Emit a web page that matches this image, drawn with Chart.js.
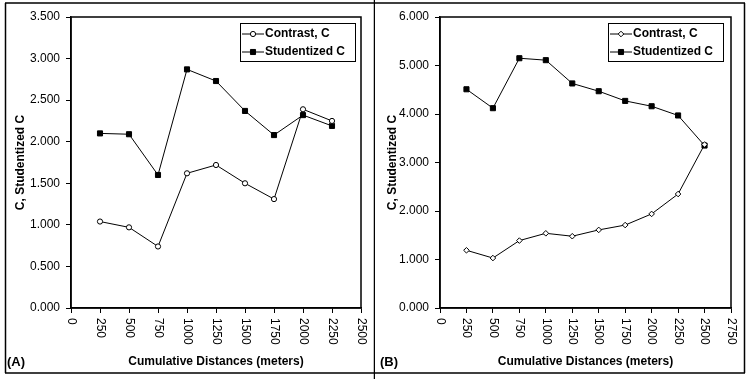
<!DOCTYPE html>
<html>
<head>
<meta charset="utf-8">
<script src="https://cdn.jsdelivr.net/npm/chart.js@4"></script>
<style>
  html, body { margin: 0; padding: 0; background: #fff; }
  #wrap { position: relative; width: 749px; height: 379px; overflow: hidden; }
  #cA { position: absolute; left: 0; top: 0; }
  #cB { position: absolute; left: 375px; top: 0; }
</style>
</head>
<body>
<div id="wrap">
  <canvas id="cA" width="375" height="379"></canvas>
  <canvas id="cB" width="374" height="379"></canvas>
</div>
<script>
// ---- Data ----
const distancesA = [250, 500, 750, 1000, 1250, 1500, 1750, 2000, 2250];
const contrastA  = [1.04, 0.97, 0.74, 1.62, 1.72, 1.50, 1.31, 2.39, 2.25];
const studentA   = [2.10, 2.09, 1.60, 2.87, 2.73, 2.37, 2.08, 2.32, 2.19];

const distancesB = [250, 500, 750, 1000, 1250, 1500, 1750, 2000, 2250, 2500];
const contrastB  = [1.19, 1.03, 1.39, 1.54, 1.48, 1.61, 1.71, 1.94, 2.35, 3.37];
const studentB   = [4.51, 4.12, 5.15, 5.11, 4.63, 4.47, 4.27, 4.16, 3.97, 3.35];

const seriesNames = ['Contrast, C', 'Studentized C'];
const xTitle = 'Cumulative Distances (meters)';
const yTitle = 'C, Studentized C';
const panelLabels = ['(A)', '(B)'];

const FONT = "'Liberation Sans', Arial, Helvetica, sans-serif";

function pts(xs, ys) { return xs.map((x, i) => ({ x: x, y: ys[i] })); }

function makeChart(canvas, cfg) {
  const framePlugin = {
    id: 'frame' + cfg.label,
    afterDraw(chart) {
      const ctx = chart.ctx;
      const a = chart.chartArea;
      ctx.save();
      // plot frame
      ctx.strokeStyle = '#000';
      ctx.lineWidth = 1.5;
      ctx.strokeRect(a.left, a.top, a.right - a.left, a.bottom - a.top);
      // rotated x tick labels (clockwise)
      const xs = chart.scales.x;
      ctx.fillStyle = '#000';
      ctx.font = '12px ' + FONT;
      ctx.textAlign = 'left';
      ctx.textBaseline = 'middle';
      xs.ticks.forEach((t, i) => {
        const px = xs.getPixelForTick(i);
        ctx.save();
        ctx.translate(px, a.bottom + 10);
        ctx.rotate(Math.PI / 2);
        ctx.fillText(String(t.value), 0, 0);
        ctx.restore();
      });
      // panel label
      ctx.font = 'bold 13px ' + FONT;
      ctx.textAlign = 'left';
      ctx.textBaseline = 'middle';
      ctx.fillText(cfg.label, cfg.labelX, 362);
      // legend
      const lg = cfg.legend;
      ctx.lineWidth = 1;
      ctx.strokeStyle = '#000';
      ctx.strokeRect(lg.x + 0.5, lg.y + 0.5, lg.w, lg.h);
      chart.data.datasets.forEach((ds, i) => {
        const ry = lg.y + lg.row0 + i * lg.rowGap;
        ctx.beginPath();
        ctx.lineWidth = 1;
        ctx.strokeStyle = '#000';
        ctx.moveTo(lg.x + 2, ry);
        ctx.lineTo(lg.x + 2 + lg.sample, ry);
        ctx.stroke();
        ctx.fillStyle = ds.pointBackgroundColor;
        Chart.helpers.drawPoint(ctx, {
          pointStyle: ds.pointStyle, radius: ds.pointRadius, rotation: 0, borderWidth: 1
        }, lg.x + 2 + lg.sample / 2, ry);
        ctx.fillStyle = '#000';
        ctx.font = 'bold 12px ' + FONT;
        ctx.textAlign = 'left';
        ctx.textBaseline = 'middle';
        ctx.fillText(ds.label, lg.x + 3 + lg.sample, ry);
      });
      // panel border
      ctx.strokeStyle = '#000';
      ctx.lineWidth = 1.5;
      ctx.beginPath();
      cfg.border.forEach(seg => {
        ctx.moveTo(seg[0], seg[1]);
        ctx.lineTo(seg[2], seg[3]);
      });
      ctx.stroke();
      ctx.restore();
    }
  };

  return new Chart(canvas, {
    type: 'line',
    data: {
      datasets: [
        {
          label: seriesNames[0],
          data: pts(cfg.xs, cfg.c),
          borderColor: '#000', borderWidth: 1,
          pointStyle: cfg.cStyle, pointRadius: cfg.cRadius,
          pointBackgroundColor: '#fff', pointBorderColor: '#000', pointBorderWidth: 1,
          tension: 0
        },
        {
          label: seriesNames[1],
          data: pts(cfg.xs, cfg.s),
          borderColor: '#000', borderWidth: 1,
          pointStyle: 'rect', pointRadius: 3.6,
          pointBackgroundColor: '#000', pointBorderColor: '#000', pointBorderWidth: 1,
          tension: 0
        }
      ]
    },
    options: {
      responsive: false,
      animation: false,
      devicePixelRatio: 1,
      layout: { padding: { top: 17, right: cfg.padRight, left: 0, bottom: 0 } },
      plugins: { legend: { display: false }, tooltip: { enabled: false } },
      scales: {
        x: {
          type: 'linear', min: 0, max: cfg.xMax,
          ticks: { display: false, stepSize: 250 },
          grid: { display: true, drawOnChartArea: false, drawTicks: true, tickLength: 5, color: '#000' },
          border: { display: true, color: '#000', width: 1.5 },
          title: { display: true, text: xTitle, color: '#000',
                   font: { family: FONT, size: 12, weight: 'bold' }, padding: { top: 0, bottom: 10 } },
          afterFit(s) { s.height = 71; }
        },
        y: {
          min: 0, max: cfg.yMax,
          ticks: { stepSize: cfg.yStep, color: '#000', padding: 6,
                   font: { family: FONT, size: 12 },
                   callback: v => Number(v).toFixed(3) },
          grid: { display: true, drawOnChartArea: false, drawTicks: true, tickLength: 5, color: '#000' },
          border: { display: true, color: '#000', width: 1.5 },
          title: { display: true, text: yTitle, color: '#000',
                   font: { family: FONT, size: 12, weight: 'bold' }, padding: { top: cfg.yTitlePad, bottom: 0 } },
          afterFit(s) { s.width = cfg.yWidth; }
        }
      }
    },
    plugins: [framePlugin]
  });
}

makeChart(document.getElementById('cA'), {
  label: panelLabels[0], labelX: 7,
  xs: distancesA, c: contrastA, s: studentA,
  cStyle: 'circle', cRadius: 2.6,
  xMax: 2500, yMax: 3.5, yStep: 0.5,
  padRight: 14, yWidth: 71, yTitlePad: 13,
  legend: { x: 240, y: 23, w: 115, h: 38, row0: 11, rowGap: 18, sample: 22 },
  border: [[5, 3, 375, 3], [5.5, 3, 5.5, 373], [5, 373, 375, 373], [374.5, 0, 374.5, 379]]
});

makeChart(document.getElementById('cB'), {
  label: panelLabels[1], labelX: 5,
  xs: distancesB, c: contrastB, s: studentB,
  cStyle: 'rectRot', cRadius: 2.8,
  xMax: 2750, yMax: 6, yStep: 1,
  padRight: 18, yWidth: 65, yTitlePad: 10,
  legend: { x: 233, y: 23, w: 115, h: 38, row0: 11, rowGap: 18, sample: 22 },
  border: [[0, 3, 370, 3], [369.5, 3, 369.5, 373], [0, 373, 370, 373]]
});
</script>
</body>
</html>
